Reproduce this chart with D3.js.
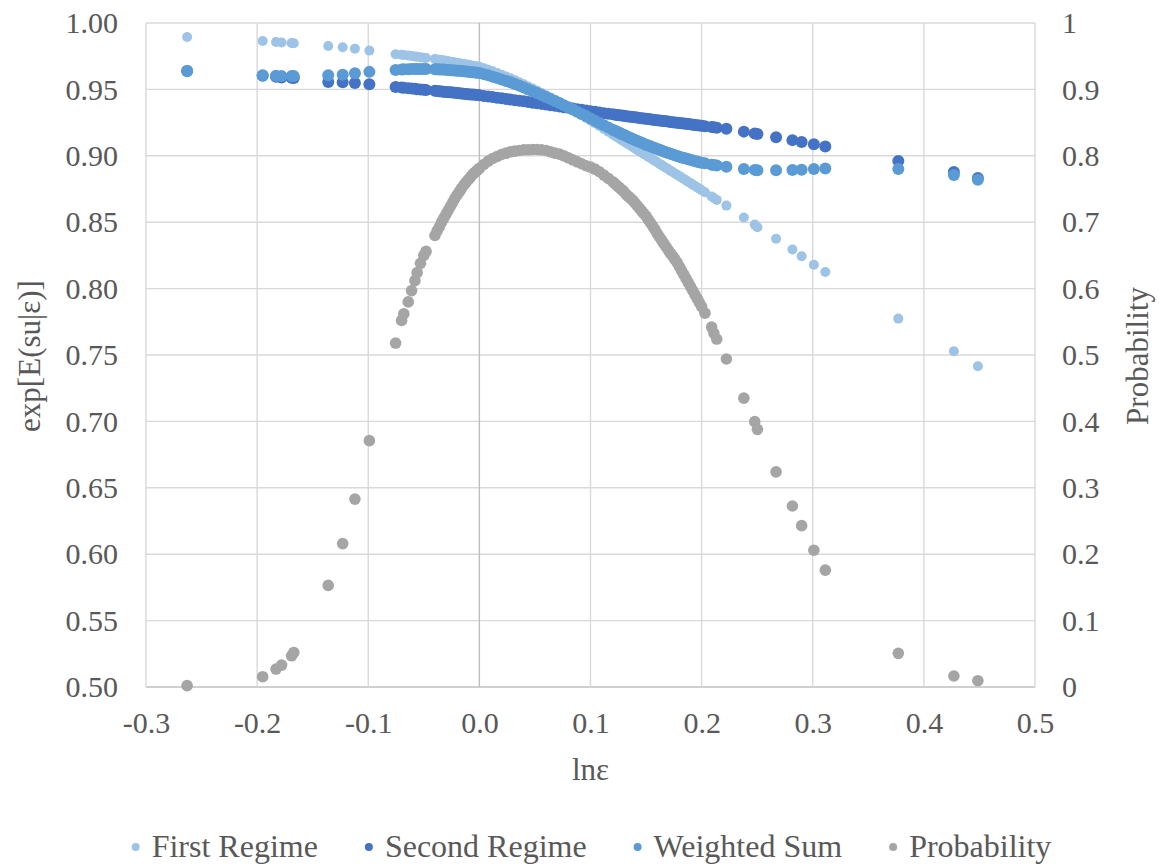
<!DOCTYPE html>
<html>
<head>
<meta charset="utf-8">
<script src="https://cdn.jsdelivr.net/npm/d3@7"></script>
<style>
  body { margin: 0; background: #fff; }
</style>
</head>
<body>
<div id="chart"></div>
<script>
// --------------------------------------
// Data (x = ln eps, shared by all series)
// The last 30 entries are extra points on the steep parts of the dense band
const lnEps = [
  -0.263, -0.195, -0.183, -0.178, -0.169, -0.167, -0.136, -0.123, -0.112, -0.099,
  -0.0754, -0.070, -0.068, -0.064, -0.061, -0.058, -0.056, -0.053, -0.050, -0.048,
  -0.040, -0.036, -0.032, -0.028, -0.024, -0.020, -0.016, -0.012, -0.008, -0.004,
  0.000,
  0.004, 0.008, 0.012, 0.016, 0.020, 0.024, 0.028, 0.032, 0.036, 0.040,
  0.044, 0.048, 0.052, 0.056, 0.060, 0.064, 0.068, 0.072, 0.076, 0.080,
  0.084, 0.088, 0.092, 0.096, 0.100, 0.104, 0.108, 0.112, 0.116, 0.120,
  0.124, 0.128, 0.132, 0.136, 0.140, 0.144, 0.148, 0.152, 0.156, 0.160,
  0.164, 0.168, 0.172, 0.176, 0.180, 0.184, 0.188, 0.192, 0.196, 0.200,
  0.203, 0.209, 0.211, 0.2136, 0.2223, 0.238, 0.2478, 0.2502, 0.267, 0.2817,
  0.290, 0.301, 0.3113, 0.377, 0.427, 0.4486,
  -0.038, -0.034, -0.030, -0.026, -0.022, -0.018, -0.014, -0.010, -0.006, -0.002,
  0.122, 0.126, 0.130, 0.134, 0.138, 0.142, 0.146, 0.150, 0.154, 0.158,
  0.162, 0.166, 0.170, 0.174, 0.178, 0.182, 0.186, 0.190, 0.194, 0.198
];
const firstRegime = [
  0.9895, 0.9865, 0.9857, 0.9853, 0.9850, 0.9848, 0.9827, 0.9817, 0.9807, 0.9792,
  0.9765, 0.9761, 0.9759, 0.9755, 0.9752, 0.9748, 0.9746, 0.9742, 0.9739, 0.9736,
  0.9728, 0.9723, 0.9718, 0.9712, 0.9706, 0.9700, 0.9694, 0.9688, 0.9682, 0.9676,
  0.9670,
  0.9660, 0.9648, 0.9636, 0.9623, 0.9610, 0.9597, 0.9584, 0.9569, 0.9554, 0.9538,
  0.9522, 0.9506, 0.9490, 0.9473, 0.9456, 0.9439, 0.9421, 0.9403, 0.9385, 0.9366,
  0.9347, 0.9327, 0.9307, 0.9287, 0.9266, 0.9245, 0.9224, 0.9203, 0.9182, 0.9161,
  0.9140, 0.9119, 0.9098, 0.9077, 0.9056, 0.9035, 0.9014, 0.8993, 0.8972, 0.8951,
  0.8930, 0.8909, 0.8888, 0.8867, 0.8846, 0.8825, 0.8804, 0.8783, 0.8762, 0.8741,
  0.8725, 0.8693, 0.8682, 0.8668, 0.8625, 0.8535, 0.8482, 0.8462, 0.8376, 0.8294,
  0.8243, 0.8180, 0.8125, 0.7774, 0.7528, 0.7415,
  0.9726, 0.9721, 0.9715, 0.9709, 0.9703, 0.9697, 0.9691, 0.9685, 0.9679, 0.9673,
  0.9151, 0.9130, 0.9109, 0.9088, 0.9067, 0.9046, 0.9025, 0.9004, 0.8983, 0.8962,
  0.8941, 0.8920, 0.8899, 0.8878, 0.8857, 0.8836, 0.8815, 0.8794, 0.8773, 0.8752
];
const secondRegime = [
  0.9638, 0.9602, 0.9595, 0.9589, 0.9588, 0.9586, 0.9556, 0.9553, 0.9548, 0.9538,
  0.9518, 0.9514, 0.9512, 0.9509, 0.9506, 0.9504, 0.9502, 0.9500, 0.9497, 0.9495,
  0.9489, 0.9486, 0.9482, 0.9479, 0.9476, 0.9472, 0.9469, 0.9466, 0.9462, 0.9459,
  0.9456,
  0.9451, 0.9447, 0.9442, 0.9437, 0.9433, 0.9428, 0.9424, 0.9419, 0.9414, 0.9410,
  0.9405, 0.9400, 0.9396, 0.9391, 0.9386, 0.9381, 0.9376, 0.9371, 0.9366, 0.9361,
  0.9356, 0.9351, 0.9346, 0.9341, 0.9336, 0.9331, 0.9326, 0.9321, 0.9316, 0.9312,
  0.9307, 0.9303, 0.9298, 0.9294, 0.9290, 0.9285, 0.9281, 0.9277, 0.9272, 0.9268,
  0.9264, 0.9260, 0.9255, 0.9251, 0.9247, 0.9243, 0.9239, 0.9234, 0.9230, 0.9226,
  0.9223, 0.9217, 0.9215, 0.9212, 0.9203, 0.9182, 0.9168, 0.9164, 0.9140, 0.9118,
  0.9104, 0.9087, 0.9070, 0.8961, 0.8878, 0.8833,
  0.9488, 0.9484, 0.9481, 0.9478, 0.9474, 0.9471, 0.9468, 0.9464, 0.9461, 0.9458,
  0.9310, 0.9305, 0.9301, 0.9296, 0.9292, 0.9288, 0.9283, 0.9279, 0.9275, 0.9270,
  0.9266, 0.9262, 0.9258, 0.9253, 0.9249, 0.9245, 0.9241, 0.9237, 0.9232, 0.9228
];
const weightedSum = [
  0.9639, 0.9606, 0.9602, 0.9600, 0.9600, 0.9600, 0.9606, 0.9611, 0.9622, 0.9632,
  0.9646, 0.9650, 0.9651, 0.9652, 0.9653, 0.9653, 0.9654, 0.9654, 0.9654, 0.9653,
  0.9652, 0.9650, 0.9649, 0.9646, 0.9644, 0.9641, 0.9638, 0.9635, 0.9631, 0.9627,
  0.9623,
  0.9615, 0.9606, 0.9596, 0.9586, 0.9575, 0.9564, 0.9553, 0.9540, 0.9527, 0.9514,
  0.9500, 0.9486, 0.9472, 0.9457, 0.9443, 0.9428, 0.9412, 0.9397, 0.9381, 0.9365,
  0.9349, 0.9332, 0.9315, 0.9299, 0.9281, 0.9264, 0.9247, 0.9230, 0.9213, 0.9197,
  0.9181, 0.9165, 0.9150, 0.9134, 0.9119, 0.9105, 0.9091, 0.9077, 0.9064, 0.9051,
  0.9039, 0.9027, 0.9015, 0.9004, 0.8993, 0.8983, 0.8974, 0.8965, 0.8956, 0.8948,
  0.8943, 0.8933, 0.8931, 0.8927, 0.8917, 0.8901, 0.8894, 0.8892, 0.8892, 0.8893,
  0.8895, 0.8900, 0.8904, 0.8901, 0.8856, 0.8819,
  0.9651, 0.9650, 0.9648, 0.9645, 0.9643, 0.9640, 0.9637, 0.9633, 0.9629, 0.9625,
  0.9189, 0.9173, 0.9158, 0.9142, 0.9127, 0.9112, 0.9098, 0.9084, 0.9071, 0.9058,
  0.9045, 0.9033, 0.9021, 0.9010, 0.8999, 0.8988, 0.8979, 0.8970, 0.8961, 0.8952
];
const probability = [
  0.002, 0.0155, 0.027, 0.033, 0.047, 0.052, 0.153, 0.216, 0.283, 0.371,
  0.518, 0.552, 0.562, 0.580, 0.597, 0.612, 0.624, 0.638, 0.650, 0.656,
  0.680, 0.693, 0.706, 0.718, 0.730, 0.741, 0.751, 0.760, 0.768, 0.775,
  0.781,
  0.787, 0.792, 0.796, 0.799, 0.802, 0.804, 0.806, 0.807, 0.808, 0.809,
  0.809, 0.8095, 0.8095, 0.809, 0.808, 0.806, 0.804, 0.8025, 0.800, 0.797,
  0.794, 0.791, 0.788, 0.785, 0.783, 0.780, 0.776, 0.771, 0.766, 0.761,
  0.755, 0.749, 0.742, 0.736, 0.729, 0.721, 0.713, 0.704, 0.694, 0.683,
  0.673, 0.663, 0.653, 0.644, 0.633, 0.621, 0.609, 0.597, 0.585, 0.573,
  0.563, 0.542, 0.533, 0.524, 0.494, 0.435, 0.3996, 0.388, 0.324, 0.2726,
  0.243, 0.206, 0.176, 0.0507, 0.0166, 0.0095,
  0.687, 0.700, 0.712, 0.724, 0.736, 0.746, 0.756, 0.764, 0.772, 0.778,
  0.758, 0.752, 0.746, 0.739, 0.733, 0.725, 0.717, 0.709, 0.699, 0.689,
  0.678, 0.668, 0.658, 0.649, 0.639, 0.627, 0.615, 0.603, 0.591, 0.579
];
const seriesNames = ["First Regime", "Second Regime", "Weighted Sum", "Probability"];
const xTicks = [-0.3, -0.2, -0.1, 0.0, 0.1, 0.2, 0.3, 0.4, 0.5];
const leftTicks = [0.50, 0.55, 0.60, 0.65, 0.70, 0.75, 0.80, 0.85, 0.90, 0.95, 1.00];
const rightTicks = [0, 0.1, 0.2, 0.3, 0.4, 0.5, 0.6, 0.7, 0.8, 0.9, 1];

// --------------------------------------
const width = 1159, height = 866;
const plot = { left: 146, right: 1035, top: 23, bottom: 687 };
const colors = ["#9dc3e6", "#4472c4", "#5b9bd5", "#a5a5a5"];
const radii = [5, 6, 6, 5.8];
const fontFamily = '"Liberation Serif"';
const textColor = "#595959";

const svg = d3.select("#chart").append("svg")
  .attr("width", width).attr("height", height)
  .style("background", "#fff");

const x = d3.scaleLinear().domain([-0.3, 0.5]).range([plot.left, plot.right]);
const yLeft = d3.scaleLinear().domain([0.5, 1.0]).range([plot.bottom, plot.top]);
const yRight = d3.scaleLinear().domain([0, 1]).range([plot.bottom, plot.top]);

// Gridlines
const grid = svg.append("g");
grid.selectAll("line.h").data(leftTicks).join("line")
  .attr("x1", plot.left).attr("x2", plot.right)
  .attr("y1", d => yLeft(d)).attr("y2", d => yLeft(d))
  .attr("stroke", d => d === 0.5 ? "#bfbfbf" : "#d9d9d9").attr("stroke-width", 1.4);
grid.selectAll("line.v").data(xTicks).join("line")
  .attr("y1", plot.top).attr("y2", plot.bottom)
  .attr("x1", d => x(d)).attr("x2", d => x(d))
  .attr("stroke", d => d === 0 ? "#bfbfbf" : "#d9d9d9").attr("stroke-width", 1.4);

// Axes (labels only, lines are drawn by the grid)
const xAxis = svg.append("g")
  .attr("transform", `translate(0,${plot.bottom})`)
  .call(d3.axisBottom(x).tickValues(xTicks).tickSize(0).tickPadding(25)
    .tickFormat(d => d.toFixed(1)));
const yAxisL = svg.append("g")
  .attr("transform", `translate(${plot.left},0)`)
  .call(d3.axisLeft(yLeft).tickValues(leftTicks).tickSize(0).tickPadding(28)
    .tickFormat(d => d.toFixed(2)));
const yAxisR = svg.append("g")
  .attr("transform", `translate(${plot.right},0)`)
  .call(d3.axisRight(yRight).tickValues(rightTicks).tickSize(0).tickPadding(27)
    .tickFormat(d => String(+d.toFixed(1))));
[xAxis, yAxisL, yAxisR].forEach(a => {
  a.select(".domain").remove();
  a.selectAll("text")
    .style("font-family", fontFamily)
    .style("font-size", "30px")
    .style("fill", textColor);
});

// Axis titles
function title(sel, txt) {
  return sel.append("text")
    .attr("text-anchor", "middle")
    .style("font-family", fontFamily)
    .style("font-size", "31px")
    .style("fill", textColor)
    .text(txt);
}
title(svg, "lnε").attr("x", (plot.left + plot.right) / 2).attr("y", 780);
title(svg, "exp[E(su|ε)]").attr("transform", "translate(40,356) rotate(-90)");
title(svg, "Probability").attr("transform", "translate(1148,356) rotate(-90)");

// --------------------------------------
// Markers: drawn in series order so later series sit on top
const series = [
  { values: firstRegime, scale: yLeft },
  { values: secondRegime, scale: yLeft },
  { values: weightedSum, scale: yLeft },
  { values: probability, scale: yRight }
];
series.forEach((s, k) => {
  svg.append("g").selectAll("circle")
    .data(lnEps.map((v, i) => [v, s.values[i]]))
    .join("circle")
    .attr("cx", d => x(d[0]))
    .attr("cy", d => s.scale(d[1]))
    .attr("r", radii[k])
    .attr("fill", colors[k]);
});

// --------------------------------------
// Legend, centred under the plot
const legend = svg.append("g");
const items = legend.selectAll("g").data(seriesNames).join("g");
items.append("circle").attr("r", 4).attr("cy", 847).attr("fill", (d, i) => colors[i]);
items.append("text").attr("y", 857)
  .style("font-family", fontFamily)
  .style("font-size", "32px")
  .style("fill", textColor)
  .text(d => d);
let cursor = 0;
const pos = [];
items.each(function (d, i) {
  const w = d3.select(this).select("text").node().getComputedTextLength();
  pos.push(cursor);
  cursor += 16 + w + (i < seriesNames.length - 1 ? 51 : 0);
});
const start = (plot.left + plot.right) / 2 + 3 - cursor / 2;
items.each(function (d, i) {
  const g = d3.select(this);
  g.select("circle").attr("cx", start + pos[i]);
  g.select("text").attr("x", start + pos[i] + 16);
});
</script>
</body>
</html>
